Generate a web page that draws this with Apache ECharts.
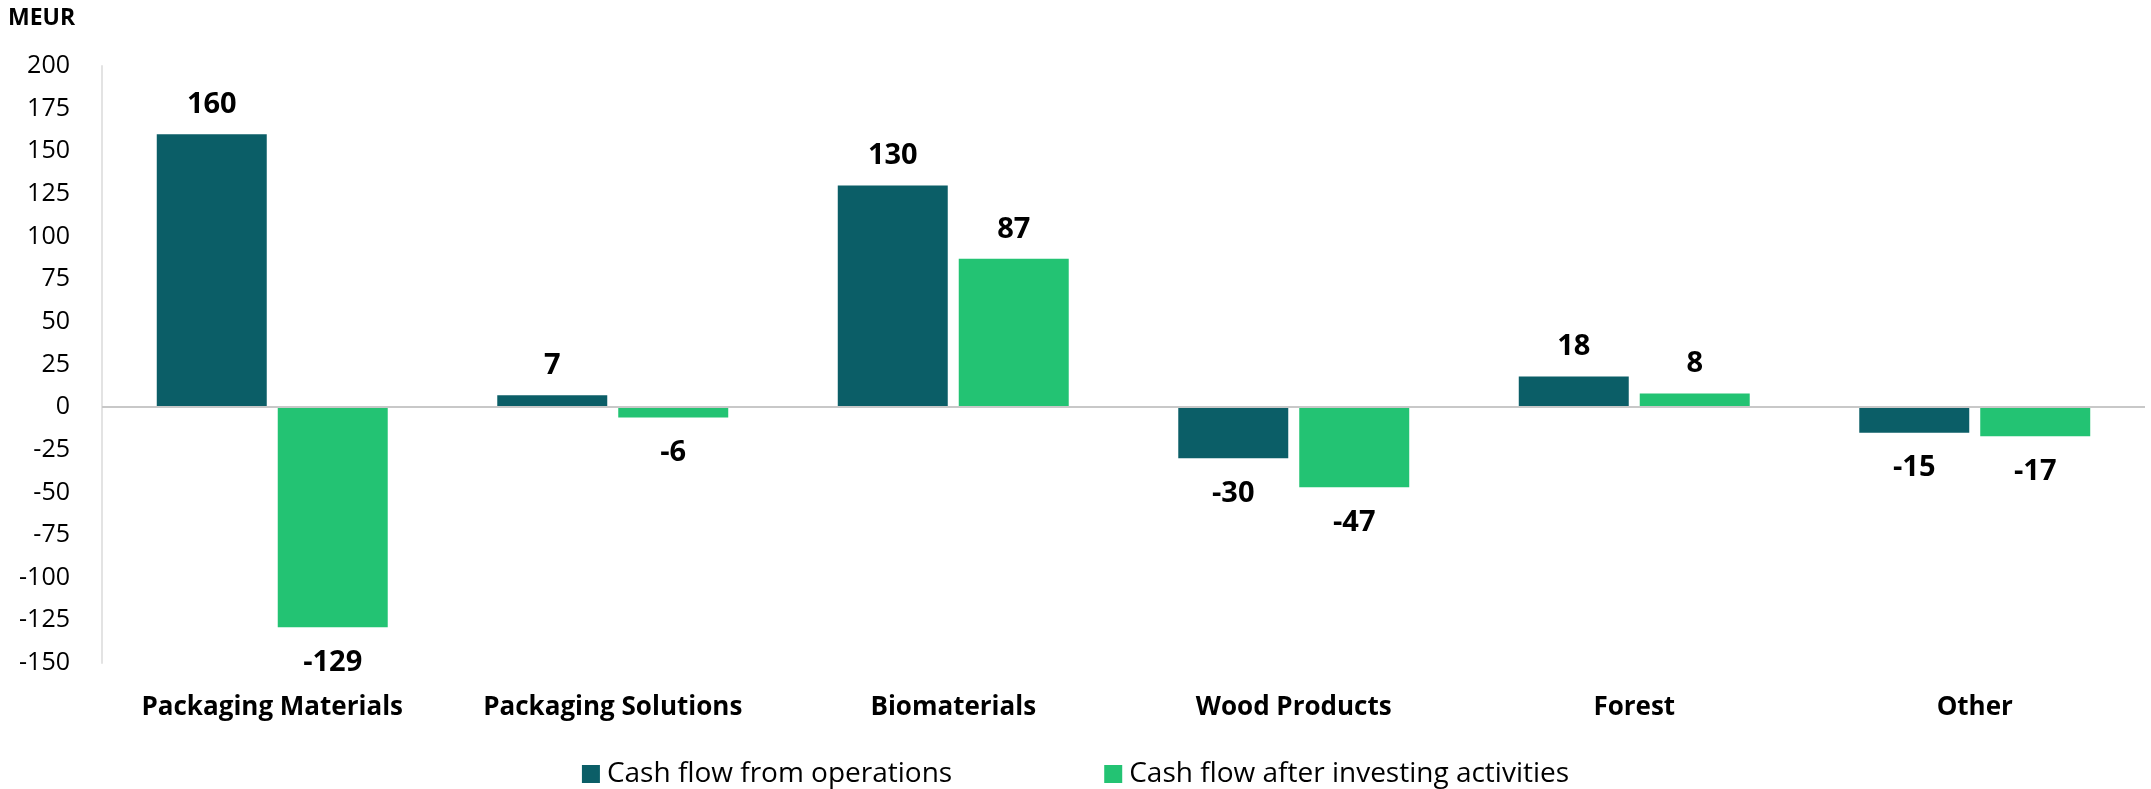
<!DOCTYPE html>
<html>
<head>
<meta charset="utf-8">
<script src="https://cdn.jsdelivr.net/npm/echarts@6/dist/echarts.min.js"></script>
<style>
  html, body { margin: 0; padding: 0; background: #ffffff; }
  #chart { width: 2151px; height: 789px; }
</style>
</head>
<body>
<div id="chart"></div>
<script>
// Segment cash flows, MEUR
const categories = ['Packaging Materials', 'Packaging Solutions', 'Biomaterials', 'Wood Products', 'Forest', 'Other'];
const cashFlowOperations = [160, 7, 130, -30, 18, -15];
const cashFlowAfterInvesting = [-129, -6, 87, -47, 8, -17];
const seriesNames = ['Cash flow from operations', 'Cash flow after investing activities'];
const unitLabel = 'MEUR';

const FONT = '"Open Sans", "DejaVu Sans", sans-serif';
const TEAL = '#0b5e67';
const GREEN = '#23c373';

const valueLabel = {
  show: true,
  fontFamily: FONT,
  fontWeight: 'bold',
  fontSize: 29,
  color: '#000000',
  distance: 15,
  position: 'top'
};

// Positive values are labelled above the bar, negative ones below it
function withLabelSide(values) {
  return values.map(v => ({
    value: v,
    label: v < 0 ? { position: 'bottom', distance: 21 } : { position: 'top' }
  }));
}

const chart = echarts.init(document.getElementById('chart'), null, { renderer: 'canvas' });
chart.setOption({
  animation: false,
  backgroundColor: '#ffffff',
  title: {
    text: unitLabel,
    left: 3,
    top: 2,
    textStyle: { fontFamily: FONT, fontWeight: 'bold', fontSize: 23, color: '#000000' }
  },
  legend: {
    bottom: -4,
    left: 'center',
    itemWidth: 18,
    itemHeight: 18,
    itemGap: 152,
    icon: 'rect',
    textStyle: { fontFamily: FONT, fontSize: 28, color: '#000000', padding: [0, 0, 0, 2] },
    data: seriesNames
  },
  grid: { left: 102, right: 6, top: 66, bottom: 126, containLabel: false },
  xAxis: {
    type: 'category',
    data: categories,
    axisLine: { show: false, onZero: false },
    axisTick: { show: false },
    axisLabel: {
      fontFamily: FONT,
      fontWeight: 'bold',
      fontSize: 26,
      color: '#000000',
      margin: 32,
      interval: 0
    }
  },
  yAxis: {
    type: 'value',
    min: -150,
    max: 200,
    interval: 25,
    axisLine: { show: true, lineStyle: { color: '#e3e3e3', width: 2 } },
    axisTick: { show: false },
    splitLine: { show: false },
    axisLabel: {
      fontFamily: FONT,
      fontSize: 25,
      color: '#000000',
      margin: 32
    }
  },
  series: [
    {
      name: seriesNames[0],
      type: 'bar',
      barWidth: '32.3%',
      barGap: '10%',
      itemStyle: { color: TEAL },
      label: valueLabel,
      data: withLabelSide(cashFlowOperations),
      markLine: {
        silent: true,
        symbol: 'none',
        label: { show: false },
        lineStyle: { color: '#c8c8c8', width: 2, type: 'solid' },
        data: [{ yAxis: 0 }]
      },
      z: 3
    },
    {
      name: seriesNames[1],
      type: 'bar',
      barWidth: '32.3%',
      barGap: '10%',
      itemStyle: { color: GREEN },
      label: valueLabel,
      data: withLabelSide(cashFlowAfterInvesting),
      z: 3
    }
  ]
});
</script>
</body>
</html>
